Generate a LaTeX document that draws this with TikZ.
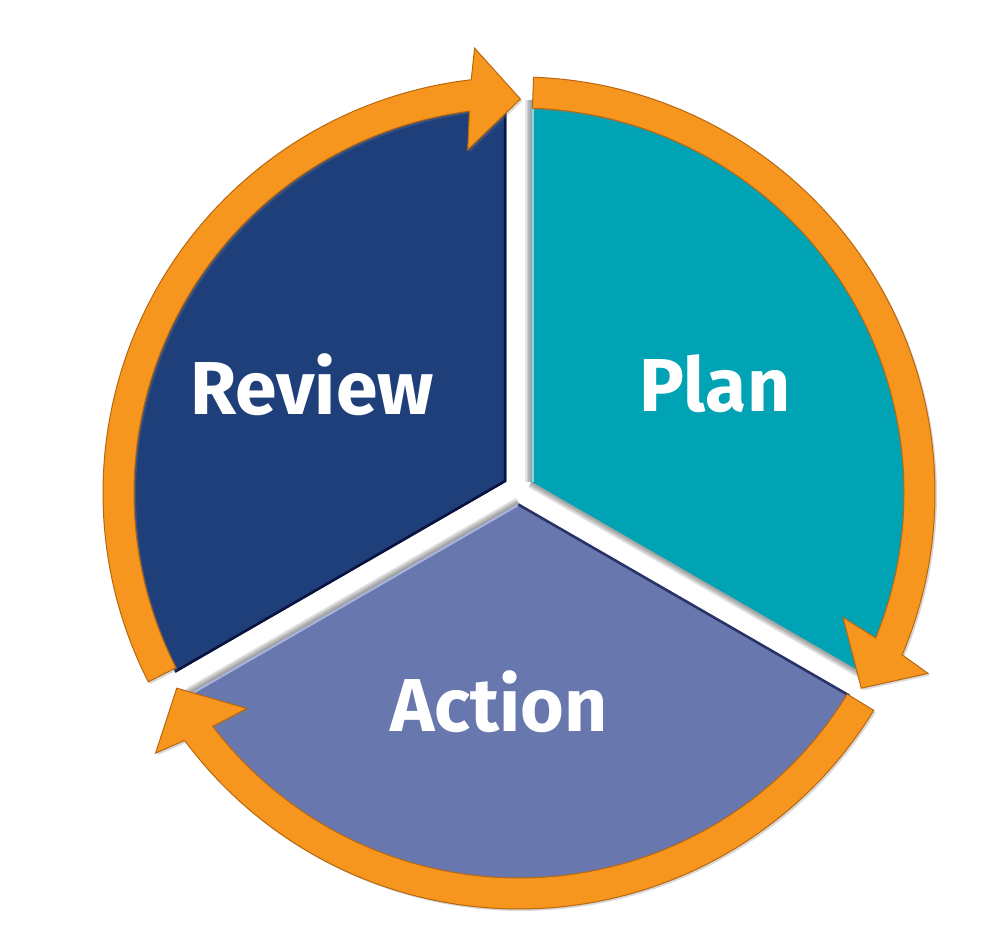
\documentclass[tikz,border=0pt]{standalone}
\usepackage{fontspec}
\setmainfont{Fira Sans}
\usetikzlibrary{shadows}
\definecolor{reviewc}{HTML}{1F3F7B}
\definecolor{planc}{HTML}{00A3B4}
\definecolor{actionc}{HTML}{6878AE}
\definecolor{ringc}{HTML}{F6961E}
\definecolor{ringdark}{HTML}{B8670E}
\definecolor{reviewedge}{HTML}{0A1240}
\definecolor{actionedge}{HTML}{2A3366}
\definecolor{planlight}{HTML}{8ED6DD}
\definecolor{actionlight}{HTML}{A8B4DA}
\newcommand{\ringseg}[2]{%
  \path[ringstyle] (#1:416pt) arc[start angle=#1, end angle={#2-0.5}, radius=416pt]
    -- ({#2-1.4}:447pt) -- ({#2-7.3}:394pt) -- ({#2+1.4}:347pt)
    -- ({#2+0.3}:385pt) arc[start angle={#2+0.3}, end angle=#1, radius=385pt] -- cycle;}
\tikzset{
  ringstyle/.style={fill=ringc, draw=ringdark, line width=1pt,
    drop shadow={opacity=0.3, shadow xshift=2pt, shadow yshift=-2pt}},
  label/.style={text=white, font=\bfseries\fontsize{75}{78}\selectfont, anchor=base, inner sep=0pt},
  softshadow/.style={draw=black, opacity=0.10, line cap=butt}
}
\begin{document}
\begin{tikzpicture}[x=1pt,y=1pt]
\useasboundingbox[fill=white] (0,0) rectangle (1003,944);
% soft shadows in the gaps
\begin{scope}[shift={(531.6,462.3)}]
  \foreach \w in {4,7,10,13} {
    \draw[softshadow, line width=\w] (0,0) -- (90:382pt);
    \draw[softshadow, line width=\w] (0,0) -- (-30:382pt);
  }
\end{scope}
\begin{scope}[shift={(519,440.5)}]
  \foreach \w in {4,7,10,13} {
    \draw[softshadow, line width=\w] (0,0) -- (210:382pt);
  }
\end{scope}
% Review sector
\begin{scope}[shift={(506.4,462.3)}]
  \fill[reviewc] (0,0) -- (90:382pt) arc[start angle=90, end angle=210, radius=382pt] -- cycle;
  \begin{scope}
    \clip (0,0) -- (90:382pt) arc[start angle=90, end angle=210, radius=382pt] -- cycle;
    \draw[reviewedge, line width=5] (210:400pt) -- (0,0) -- (90:400pt);
  \end{scope}
\end{scope}
% Plan sector
\begin{scope}[shift={(531.6,462.3)}]
  \fill[planc] (0,0) -- (-30:382pt) arc[start angle=-30, end angle=90, radius=382pt] -- cycle;
  \begin{scope}
    \clip (0,0) -- (-30:382pt) arc[start angle=-30, end angle=90, radius=382pt] -- cycle;
    \draw[planlight, line width=4] (0,0) -- (90:400pt);
  \end{scope}
\end{scope}
% Action sector
\begin{scope}[shift={(519,440.5)}]
  \fill[actionc] (0,0) -- (210:382pt) arc[start angle=210, end angle=330, radius=382pt] -- cycle;
  \begin{scope}
    \clip (0,0) -- (210:382pt) arc[start angle=210, end angle=330, radius=382pt] -- cycle;
    \draw[actionlight, line width=4] (0,0) -- (210:400pt);
    \draw[actionedge, line width=5] (0,0) -- (330:400pt);
  \end{scope}
\end{scope}
% labels
\node[label] (review) at (312,529) {Review};
\node[label] (plan) at (715,532) {Plan};
\node[label] (action) at (499,212) {Action};
% orange cycle arrows
\begin{scope}[shift={(519,451)}]
  \ringseg{88}{-22.4}
  \ringseg{-31.5}{-143}
  \ringseg{207}{97.1}
\end{scope}
\end{tikzpicture}
\end{document}
